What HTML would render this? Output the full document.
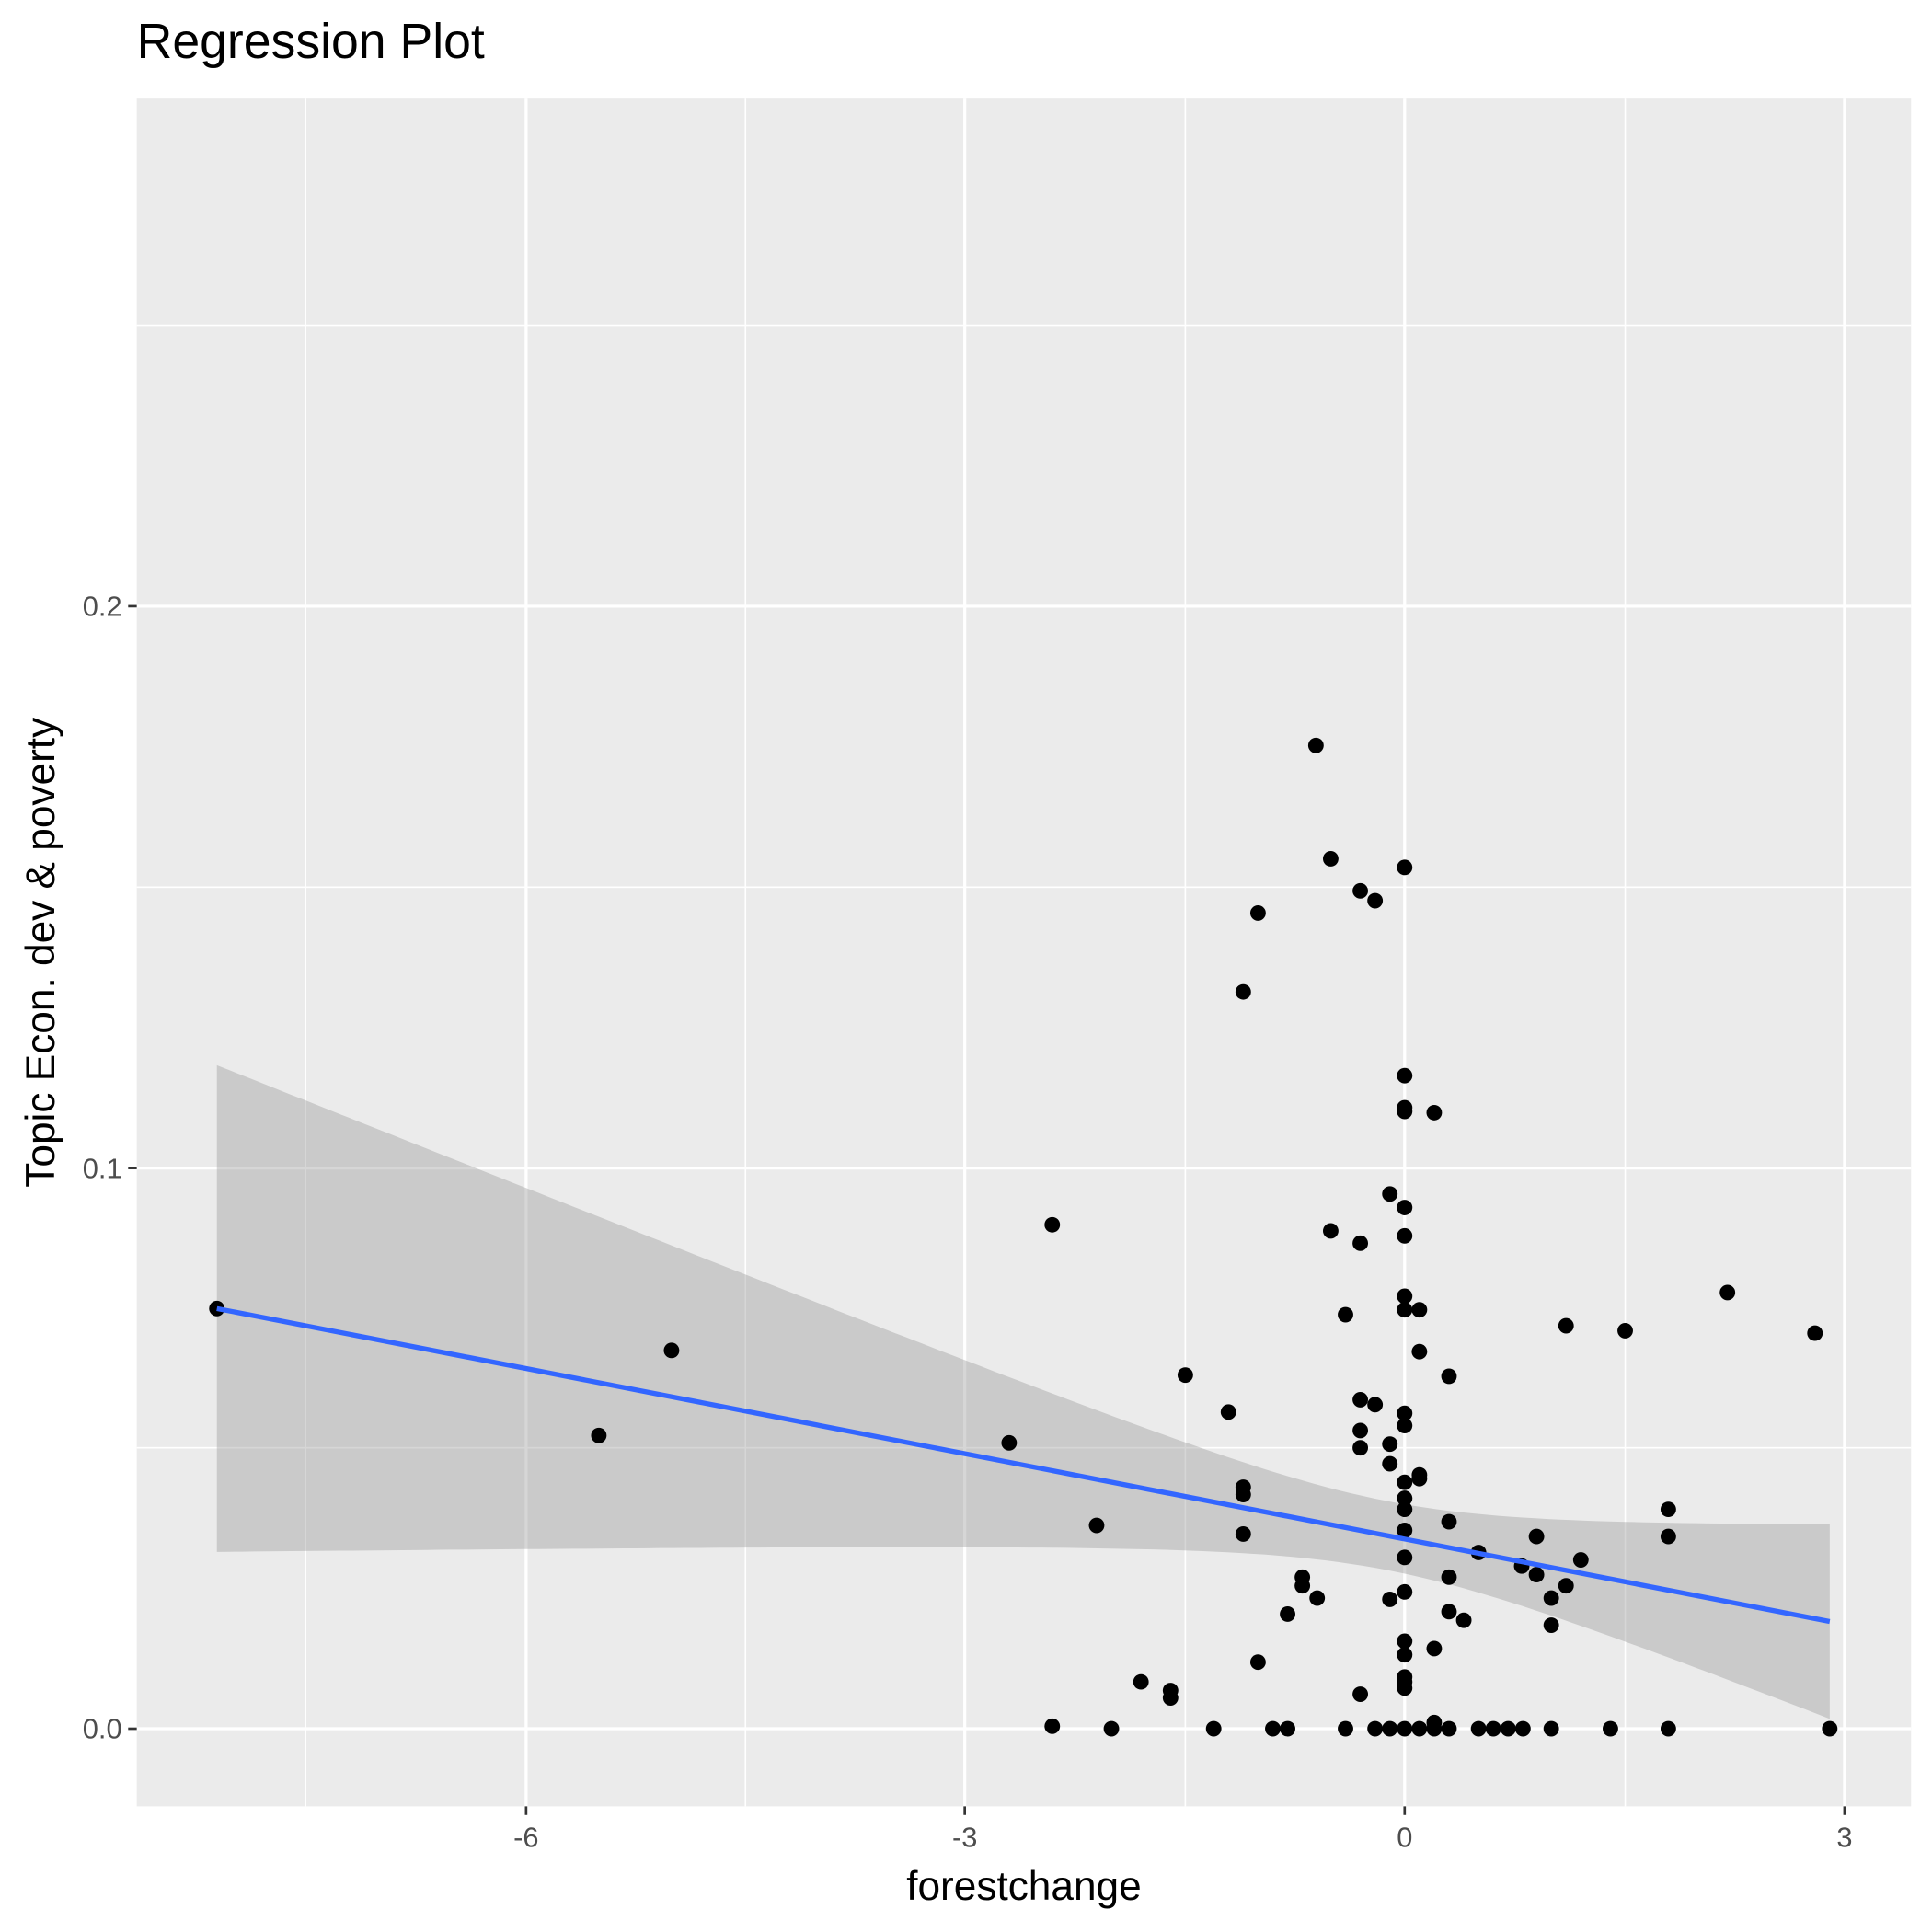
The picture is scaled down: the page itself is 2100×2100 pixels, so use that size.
<!DOCTYPE html>
<html><head><style>body{margin:0;background:#fff}svg{display:block}</style></head>
<body>
<svg id="s" width="2100" height="2100" viewBox="0 0 1568 1568" xmlns="http://www.w3.org/2000/svg" font-family="Liberation Sans, sans-serif">
<rect x="0" y="0" width="1568" height="1568" fill="#fff"/>
<rect x="111" y="80" width="1440" height="1386" fill="#ebebeb"/>
<g stroke="#fff" stroke-width="1.2">
<line x1="111" x2="1551" y1="264" y2="264"/><line x1="111" x2="1551" y1="720" y2="720"/><line x1="111" x2="1551" y1="1175" y2="1175"/>
<line x1="248" x2="248" y1="80" y2="1466"/><line x1="605" x2="605" y1="80" y2="1466"/><line x1="962" x2="962" y1="80" y2="1466"/><line x1="1319" x2="1319" y1="80" y2="1466"/>
</g>
<g stroke="#fff" stroke-width="2.4">
<line x1="111" x2="1551" y1="492" y2="492"/><line x1="111" x2="1551" y1="948" y2="948"/><line x1="111" x2="1551" y1="1403" y2="1403"/>
<line x1="427" x2="427" y1="80" y2="1466"/><line x1="783" x2="783" y1="80" y2="1466"/><line x1="1140" x2="1140" y1="80" y2="1466"/><line x1="1497" x2="1497" y1="80" y2="1466"/>
</g>
<g id="band"></g>
<g id="pts" fill="#000"></g>
<line x1="176" y1="1062" x2="1485" y2="1316" stroke="#3366ff" stroke-width="4"/>
<g stroke="#333" stroke-width="2">
<line x1="104" x2="111" y1="492" y2="492"/><line x1="104" x2="111" y1="948" y2="948"/><line x1="104" x2="111" y1="1403" y2="1403"/>
<line x1="427" x2="427" y1="1466" y2="1473"/><line x1="783" x2="783" y1="1466" y2="1473"/><line x1="1140" x2="1140" y1="1466" y2="1473"/><line x1="1497" x2="1497" y1="1466" y2="1473"/>
</g>
<g fill="#4d4d4d" font-size="23" text-anchor="end">
<text x="99" y="500">0.2</text><text x="99" y="956">0.1</text><text x="99" y="1411">0.0</text>
</g>
<g fill="#4d4d4d" font-size="23" text-anchor="middle">
<text x="427" y="1499">-6</text><text x="783" y="1499">-3</text><text x="1140" y="1499">0</text><text x="1497" y="1499">3</text>
</g>
<text x="831" y="1542" font-size="33" text-anchor="middle">forestchange</text>
<text transform="translate(44,773) rotate(-90)" font-size="33" text-anchor="middle">Topic Econ. dev &amp; poverty</text>
<text x="111" y="47" font-size="40">Regression Plot</text>
</svg>
<script>
var ns="http://www.w3.org/2000/svg";
var up=[],lo=[];
for(var x=176;x<=1485;x+=10){var xx=Math.min(x,1485);var c=1062+(xx-176)*0.194;var h=Math.sqrt(784+0.04235*(xx-1126)*(xx-1126));up.push(xx+","+(c-h).toFixed(1));lo.unshift(xx+","+(c+h).toFixed(1));}
var xx=1485,c=1316,h=Math.sqrt(784+0.04235*(xx-1126)*(xx-1126));up.push(xx+","+(c-h));lo.unshift(xx+","+(c+h));
var p=document.createElementNS(ns,"polygon");p.setAttribute("points",up.concat(lo).join(" "));p.setAttribute("fill","#999");p.setAttribute("fill-opacity","0.4");
document.getElementById("band").appendChild(p);
var P=[[176,1062],[545,1096],[486,1165],[819,1171],[854,994],[890,1238],[962,1116],[997,1146],[1009,805],[1009,1207],[1009,1213],[1009,1245],[1021,741],[1021,1349],[1045,1310],[1057,1280],[1057,1287],[1069,1297],[1068,605],[1080,697],[1080,999],[1092,1067],[1104,723],[1104,1009],[1104,1136],[1104,1161],[1104,1175],[1104,1375],[1116,731],[1116,1140],[1128,969],[1128,1172],[1128,1188],[1128,1298],[1140,704],[1140,873],[1140,899],[1140,902],[1140,980],[1140,1003],[1140,1052],[1140,1063],[1140,1147],[1140,1157],[1140,1203],[1140,1216],[1140,1225],[1140,1242],[1140,1264],[1140,1292],[1140,1332],[1140,1343],[1140,1361],[1140,1365],[1140,1370],[1152,1063],[1152,1097],[1152,1197],[1152,1200],[1164,903],[1164,1338],[1176,1117],[1176,1235],[1176,1280],[1176,1308],[1188,1315],[1200,1260],[1235,1271],[1247,1247],[1247,1278],[1259,1297],[1259,1319],[1271,1076],[1271,1287],[1283,1266],[1319,1080],[1354,1225],[1354,1247],[1402,1049],[1473,1082],[926,1365],[950,1372],[950,1378],[854,1401],[1164,1398]];
[902,985,1033,1045,1092,1116,1128,1140,1152,1164,1176,1200,1212,1224,1236,1259,1307,1354,1485].forEach(function(x){P.push([x,1403]);});
var g=document.getElementById("pts");
P.forEach(function(q){var e=document.createElementNS(ns,"circle");e.setAttribute("cx",q[0]);e.setAttribute("cy",q[1]);e.setAttribute("r","6.3");g.appendChild(e);});
</script>
</body></html>
